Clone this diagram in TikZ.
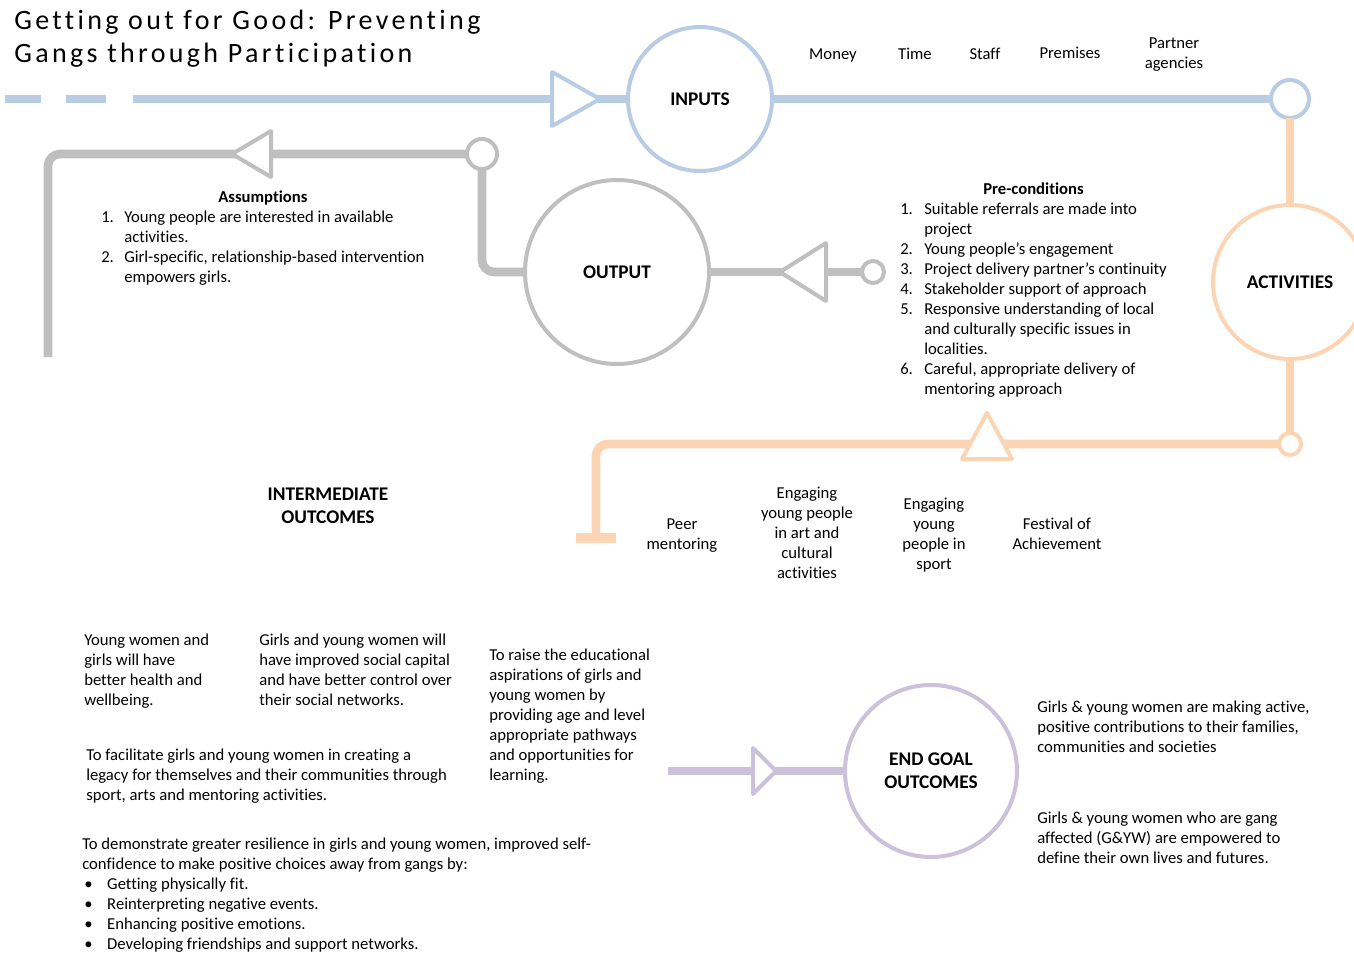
\documentclass[tikz,border=0pt]{standalone}
\usepackage{fontspec}
\setmainfont[Ligatures={TeX,NoCommon}]{Carlito}
\newfontfamily\titlefont[LetterSpace=12,Ligatures=NoCommon]{Carlito}
\usetikzlibrary{arrows.meta}
\definecolor{inblue}{HTML}{B8CCE4}
\definecolor{outgray}{HTML}{BFBFBF}
\definecolor{actorange}{HTML}{FBD4B4}
\definecolor{endpurple}{HTML}{CCC1DA}
\newcommand{\bodyfont}{\fontsize{12.5}{15}\selectfont}
\tikzset{
  stage/.style={circle,draw,line width=3pt,fill=white,inner sep=0pt,outer sep=0pt,
    align=center,font=\fontsize{14.5}{17.25}\selectfont\bfseries},
  joint/.style={circle,draw,line width=3pt,fill=white,inner sep=0pt,outer sep=0pt},
  track/.style={line width=6.5pt},
  tri/.style={line width=3pt,fill=white,line join=round},
  txt/.style={font=\bodyfont,align=left,inner sep=0pt,anchor=base west},
  ctxt/.style={font=\bodyfont,align=center,inner sep=0pt,anchor=base},
}
\begin{document}
\begin{tikzpicture}[x=0.75pt,y=-0.75pt]
\useasboundingbox (0,0) rectangle (1354,953);
% title (base = last line)
\node[anchor=base west,inner sep=0pt,align=left,font=\titlefont\fontsize{21}{24.75}\selectfont] (title) at (14,62)
  {Getting out for Good: Preventing\\Gangs through Participation};

% stages
\node[stage,draw=inblue,minimum size=108pt] (inputs) at (700,99) {INPUTS};
\node[stage,draw=outgray,minimum size=138pt] (output) at (617,272) {OUTPUT};
\node[stage,draw=actorange,minimum size=115.5pt] (act) at (1290,282) {ACTIVITIES};
\node[stage,draw=endpurple,minimum size=129pt] (endgoal) at (931,771) {END GOAL\\OUTCOMES};

% joints
\node[joint,draw=inblue,minimum size=28.5pt] (bpin) at (1290,99) {};
\node[joint,draw=outgray,minimum size=22.5pt] (gpin1) at (482,154) {};
\node[joint,draw=outgray,minimum size=16.5pt] (gpin2) at (873,272) {};
\node[joint,draw=actorange,minimum size=16.5pt] (opin) at (1290,444) {};

\coordinate (bstart) at (5,99);
\coordinate (gend) at (48,357);
\coordinate (oend) at (596,543);
\coordinate (pstart) at (668,771);

% tracks
\draw[track,inblue,dash pattern=on 27pt off 18.75pt on 30pt off 20.25pt on 2000pt off 1pt] (bstart) -- (inputs);
\draw[track,inblue] (inputs) -- (bpin);
\draw[track,actorange] (bpin) -- (act);
\draw[track,actorange] (act) -- (opin);
\draw[track,actorange,rounded corners=9pt,-{Rectangle[length=7.5pt,width=30pt]}] (opin) -| (oend);
\draw[track,outgray,rounded corners=9pt] (gpin1) -| (gend);
\draw[track,outgray,rounded corners=9pt] (gpin1) |- (output);
\draw[track,outgray] (output) -- (gpin2);
\draw[track,endpurple] (pstart) -- (endgoal);

% triangles
\draw[tri,draw=inblue] (552,72) -- (600,99) -- (552,126) -- cycle;
\draw[tri,draw=outgray] (271,131) -- (232,154) -- (271,177) -- cycle;
\draw[tri,draw=outgray] (826,243) -- (780,272) -- (826,301) -- cycle;
\draw[tri,draw=actorange] (962,459) -- (987,413) -- (1012,459) -- cycle;
\draw[tri,draw=endpurple] (753,748) -- (776,771) -- (753,794) -- cycle;

% inputs
\node[ctxt] (money) at (833,60) {Money};
\node[ctxt] (time) at (915,60) {Time};
\node[ctxt] (staff) at (985,59) {Staff};
\node[ctxt] (premises) at (1070,58) {Premises};
\node[ctxt] (partner) at (1174,68) {Partner\\agencies};

% assumptions and pre-conditions
\node[txt] (assume) at (101,202) {\begin{tabular}[t]{@{}p{17.25pt}@{}l@{}}
  \multicolumn{2}{c}{\textbf{Assumptions}}\\
  1. & Young people are interested in available\\
     & activities.\\
  2. & Girl-specific, relationship-based intervention\\
     & empowers girls.
\end{tabular}};
\node[txt] (precond) at (900,194) {\begin{tabular}[t]{@{}p{18pt}@{}l@{}}
  \multicolumn{2}{c}{\textbf{Pre-conditions}}\\
  1. & Suitable referrals are made into\\
     & project\\
  2. & Young people’s engagement\\
  3. & Project delivery partner’s continuity\\
  4. & Stakeholder support of approach\\
  5. & Responsive understanding of local\\
     & and culturally specific issues in\\
     & localities.\\
  6. & Careful, appropriate delivery of\\
     & mentoring approach
\end{tabular}};

% activities (base = last line)
\node[ctxt] (peer) at (682,549) {Peer\\mentoring};
\node[ctxt] (art) at (807,578) {Engaging\\young people\\in art and\\cultural\\activities};
\node[ctxt] (sport) at (934,569) {Engaging\\young\\people in\\sport};
\node[ctxt] (festival) at (1057,549) {Festival of\\Achievement};

% intermediate outcomes
\node[ctxt,font=\fontsize{14.5}{17.25}\selectfont\bfseries] (inter) at (328,523) {INTERMEDIATE\\OUTCOMES};
\node[txt] (health) at (84,705) {Young women and\\girls will have\\better health and\\wellbeing.};
\node[txt] (social) at (259,705) {Girls and young women will\\have improved social capital\\and have better control over\\their social networks.};
\node[txt] (educ) at (489,780) {To raise the educational\\aspirations of girls and\\young women by\\providing age and level\\appropriate pathways\\and opportunities for\\learning.};
\node[txt] (legacy) at (86,800) {To facilitate girls and young women in creating a\\legacy for themselves and their communities through\\sport, arts and mentoring activities.};
\node[txt] (resil) at (82,849) {\begin{tabular}[t]{@{}p{18.75pt}@{}l@{}}
  \multicolumn{2}{@{}l@{}}{To demonstrate greater resilience in girls and young women, improved self-}\\
  \multicolumn{2}{@{}l@{}}{confidence to make positive choices away from gangs by:}\\
  \hspace{1.5pt}\textbullet & Getting physically fit.\\
  \hspace{1.5pt}\textbullet & Reinterpreting negative events.\\
  \hspace{1.5pt}\textbullet & Enhancing positive emotions.\\
  \hspace{1.5pt}\textbullet & Developing friendships and support networks.
\end{tabular}};

% end goal outcomes
\node[txt] (active) at (1037,752) {Girls \& young women are making active,\\positive contributions to their families,\\communities and societies};
\node[txt] (defined) at (1037,863) {Girls \& young women who are gang\\affected (G\&YW) are empowered to\\define their own lives and futures.};
\end{tikzpicture}
\end{document}
